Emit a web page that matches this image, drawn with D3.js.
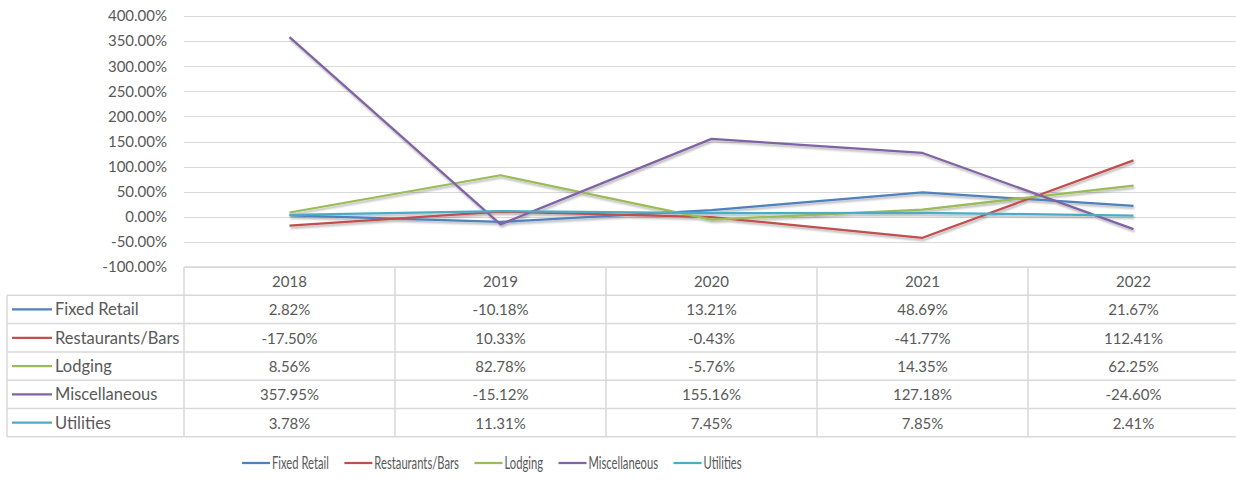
<!DOCTYPE html>
<html>
<head>
<meta charset="utf-8">
<script src="https://cdn.jsdelivr.net/npm/d3@7"></script>
<style>
  html, body { margin: 0; padding: 0; background: #fff; }
  svg { display: block; }
  text { font-family: Lato, "Open Sans", sans-serif; fill: #595959; }
</style>
</head>
<body>
<svg id="chart" width="1236" height="483"></svg>
<script>
// Year-over-year change by sector
const years = ["2018", "2019", "2020", "2021", "2022"];
const seriesNames = ["Fixed Retail", "Restaurants/Bars", "Lodging", "Miscellaneous", "Utilities"];
const fixedRetail = [0.0282, -0.1018, 0.1321, 0.4869, 0.2167];
const restaurantsBars = [-0.1750, 0.1033, -0.0043, -0.4177, 1.1241];
const lodging = [0.0856, 0.8278, -0.0576, 0.1435, 0.6225];
const miscellaneous = [3.5795, -0.1512, 1.5516, 1.2718, -0.2460];
const utilities = [0.0378, 0.1131, 0.0745, 0.0785, 0.0241];
const yTicks = [-1, -0.5, 0, 0.5, 1, 1.5, 2, 2.5, 3, 3.5, 4];
const colors = ["#4F81BD", "#C0504D", "#9BBB59", "#8064A2", "#4BACC6"];

const seriesValues = [fixedRetail, restaurantsBars, lodging, miscellaneous, utilities];
const series = seriesNames.map((name, i) => ({ name, values: seriesValues[i], color: colors[i] }));

const svg = d3.select("#chart");
const pct = d3.format(".2%");
const fmt = v => pct(v).replace("\u2212", "-");

const plotLeft = 184, colW = 211;
const x = d3.scaleBand().domain(years).range([plotLeft, plotLeft + colW * years.length]);
const y = d3.scaleLinear().domain([-1, 4]).range([267, 16]);

// soft shadow under the lines
const defs = svg.append("defs");
const f = defs.append("filter").attr("id", "shadow").attr("x", "-5%").attr("y", "-20%").attr("width", "110%").attr("height", "140%");
f.append("feDropShadow").attr("dx", 1).attr("dy", 2).attr("stdDeviation", 1.2)
  .attr("flood-color", "#000").attr("flood-opacity", 0.3);

// gridlines
svg.append("g").selectAll("line").data(yTicks).join("line")
  .attr("x1", plotLeft).attr("x2", 1236)
  .attr("y1", d => Math.round(y(d)) + 0.5).attr("y2", d => Math.round(y(d)) + 0.5)
  .attr("stroke", "#D9D9D9").attr("stroke-width", 1);

// y axis labels
const yAxis = d3.axisLeft(y).tickValues(yTicks).tickFormat(fmt).tickSize(0).tickPadding(0);
const ya = svg.append("g").attr("transform", `translate(167,0)`).call(yAxis);
ya.select(".domain").remove();
ya.selectAll("text").style("font-family", "Lato, 'Open Sans', sans-serif").style("font-size", "15px").attr("fill", "#595959");

// lines
const line = d3.line().x((d, i) => x(years[i]) + x.bandwidth() / 2).y(d => y(d));
svg.append("g").attr("filter", "url(#shadow)").selectAll("path").data(series).join("path")
  .attr("d", d => line(d.values))
  .attr("fill", "none").attr("stroke", d => d.color).attr("stroke-width", 2.25)
  .attr("stroke-linejoin", "round");

// data table
const headTop = 267, rowH = 28.3, tableLeft = 7;
const tableRight = plotLeft + colW * years.length;
const g = svg.append("g");
const grid = "#D9D9D9";
const hl = (x1, x2, yy) => g.append("line").attr("x1", x1).attr("x2", x2).attr("y1", yy).attr("y2", yy).attr("stroke", grid).attr("stroke-width", 1.5);
const vl = (xx, y1, y2) => g.append("line").attr("x1", xx).attr("x2", xx).attr("y1", y1).attr("y2", y2).attr("stroke", grid).attr("stroke-width", 1.5);

const rowsTop = headTop + rowH;
hl(plotLeft, tableRight, headTop);
for (let r = 0; r <= series.length; r++) hl(tableLeft, tableRight, rowsTop + r * rowH);
vl(tableLeft, rowsTop, rowsTop + series.length * rowH);
years.forEach((yr, i) => vl(x(yr), headTop, rowsTop + series.length * rowH));

g.selectAll(".hdr").data(years).join("text").attr("class", "hdr")
  .attr("x", d => x(d) + x.bandwidth() / 2).attr("y", headTop + rowH / 2)
  .attr("text-anchor", "middle").attr("dominant-baseline", "central").style("font-size", "15px").text(d => d);

series.forEach((s, r) => {
  const cy = rowsTop + r * rowH + rowH / 2;
  g.append("line").attr("x1", 12).attr("x2", 52).attr("y1", cy).attr("y2", cy)
    .attr("stroke", s.color).attr("stroke-width", 2.25);
  g.append("text").attr("x", 55).attr("y", cy).attr("dominant-baseline", "central")
    .style("font-size", "16.5px").text(s.name);
  g.selectAll(null).data(s.values).join("text")
    .attr("x", (d, i) => x(years[i]) + x.bandwidth() / 2).attr("y", cy)
    .attr("text-anchor", "middle").attr("dominant-baseline", "central").style("font-size", "15px")
    .text(d => fmt(d));
});

// legend (condensed labels)
const legendY = 463, squeeze = 0.68;
const legend = svg.append("g");
let lx = 242;
series.forEach(s => {
  legend.append("line").attr("x1", lx).attr("x2", lx + 28).attr("y1", legendY).attr("y2", legendY)
    .attr("stroke", s.color).attr("stroke-width", 2.25);
  const t = legend.append("text")
    .attr("transform", `translate(${lx + 30},${legendY}) scale(${squeeze},1)`)
    .attr("dominant-baseline", "central")
    .style("font-size", "16.5px").text(s.name);
  lx += 30 + t.node().getComputedTextLength() * squeeze + 15.5;
});
</script>
</body>
</html>
